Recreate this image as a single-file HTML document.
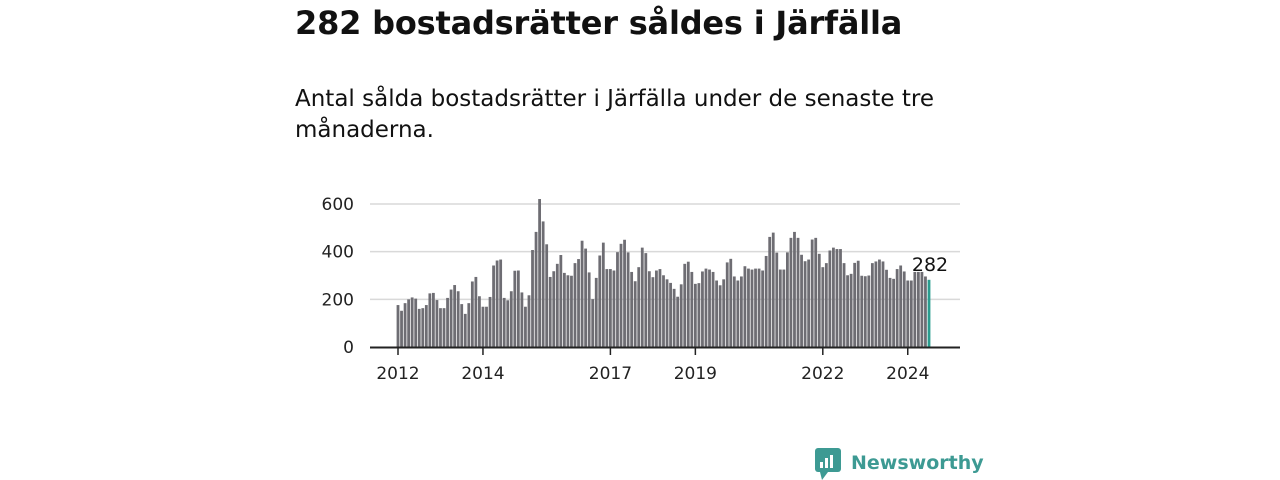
<!DOCTYPE html>
<html><head><meta charset="utf-8"><style>
body{margin:0;width:1280px;height:480px;background:#fff;font-family:"DejaVu Sans","Liberation Sans",sans-serif;overflow:hidden;position:relative}
h1{position:absolute;left:295px;top:4px;margin:0;font-size:32px;font-weight:bold;color:#111;letter-spacing:-0.2px}
p{position:absolute;left:295px;top:84px;margin:0;font-size:23px;line-height:31px;color:#111;width:680px}
svg{position:absolute;left:0;top:0}
</style></head><body>
<h1>282 bostadsrätter såldes i Järfälla</h1>
<p>Antal sålda bostadsrätter i Järfälla under de senaste tre månaderna.</p>
<svg width="1280" height="480" id="chart"></svg>
<script>
const values=[176,152,184,200,208,203,160,163,176,225,227,197,
163,163,206,241,260,234,180,139,184,275,294,213,
169,169,210,342,363,367,206,196,234,320,321,229,
169,217,407,483,621,527,431,294,318,349,386,311,
301,299,352,369,446,413,313,201,290,384,438,327,
327,321,398,433,450,397,315,276,335,417,394,318,
293,321,327,301,284,269,244,211,263,349,358,315,
265,268,317,329,325,315,279,259,284,355,370,296,
279,296,339,329,325,329,329,321,382,462,480,396,
325,325,397,458,483,458,387,360,367,451,458,391,
335,352,405,417,411,411,352,301,307,353,362,299,
297,300,352,359,367,359,324,290,286,327,342,317,
279,279,315,315,315,296,282];
const yTicks=[0,200,400,600];
const xYears=[2012,2014,2017,2019,2022,2024];
const NS="http://www.w3.org/2000/svg";
const svg=document.getElementById('chart');
const y=v=>347-v*0.2383;
const x=i=>398+i*3.54;
const yearX=yr=>x((yr-2012)*12);
function mk(t,a){const e=document.createElementNS(NS,t);for(const k in a)e.setAttribute(k,a[k]);svg.appendChild(e);return e;}
yTicks.forEach(t=>{
 if(t>0){const g=mk('line',{x1:370,x2:960,y1:y(t),y2:y(t),stroke:'#d9d9d9','stroke-width':1.5});
 
 }
 const l=mk('text',{x:354,y:y(t)+6,'text-anchor':'end','font-size':17,fill:'#222'});l.textContent=t;
 
 
});
values.forEach((v,i)=>{
 const last=i===values.length-1;
 const r=mk('rect',{x:x(i)-1.4,y:y(v),width:2.8,height:347-y(v),fill:last?'#2a9d8f':'#6e6d73'});
 
 
});
const ax=mk('line',{x1:370,x2:960,y1:347.5,y2:347.5,stroke:'#222','stroke-width':2});


xYears.forEach(yr=>{
 const t=mk('line',{x1:yearX(yr),x2:yearX(yr),y1:347,y2:355,stroke:'#222','stroke-width':1.5});
 
 
 const l=mk('text',{x:yearX(yr),y:379,'text-anchor':'middle','font-size':17,fill:'#222'});l.textContent=yr;
 
 
});
const lv=values[values.length-1];
const lab=mk('text',{x:x(values.length-1)+1,y:y(lv)-9,'text-anchor':'middle','font-size':19,fill:'#111'});lab.textContent=lv;


const lg=mk('rect',{x:815,y:448,width:26,height:24,rx:3,fill:'#3d9a93'});


mk('polygon',{points:'820,472 828,472 822,480',fill:'#3d9a93'});
[[820,462,3,6],[825,458,3,10],[830,455,3,13]].forEach(b=>mk('rect',{x:b[0],y:b[1],width:b[2],height:b[3],fill:'#fff'}));
const lt=mk('text',{x:851,y:469,'font-size':19,'font-weight':'bold',fill:'#3d9a93'});lt.textContent='Newsworthy';


</script>
</body></html>
